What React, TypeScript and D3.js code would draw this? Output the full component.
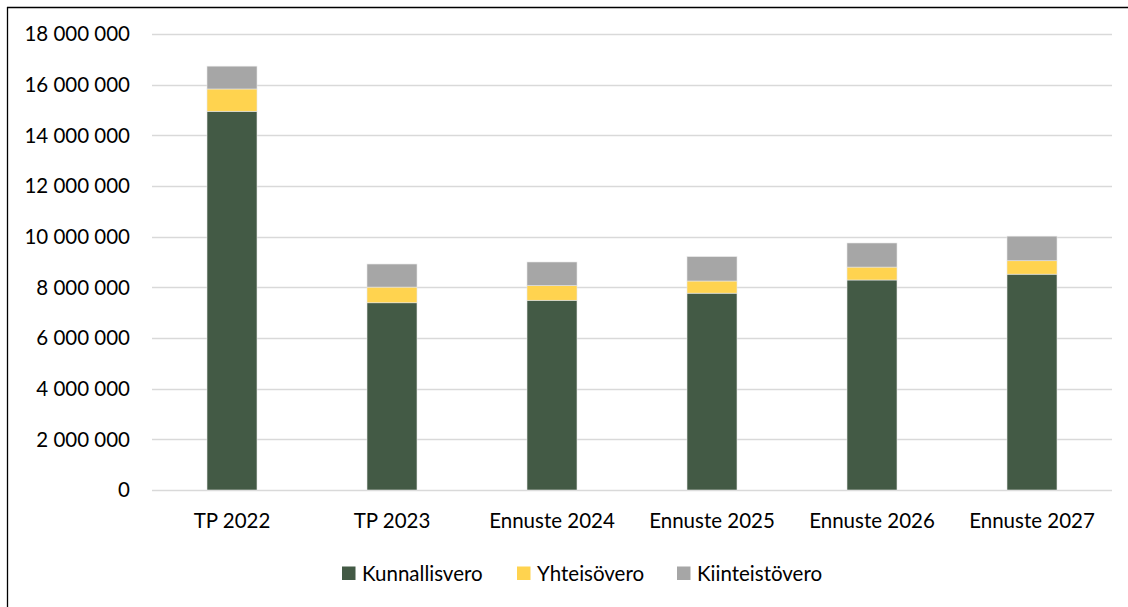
import React, { useRef, useEffect } from 'react';
import * as d3 from 'd3';

const categories = ['TP 2022', 'TP 2023', 'Ennuste 2024', 'Ennuste 2025', 'Ennuste 2026', 'Ennuste 2027'];
const kunnallisvero = [14950000, 7390000, 7490000, 7770000, 8290000, 8520000];
const yhteisovero = [880000, 620000, 580000, 480000, 510000, 530000];
const kiinteistovero = [900000, 910000, 930000, 960000, 950000, 970000];
const seriesNames = ['Kunnallisvero', 'Yhteisövero', 'Kiinteistövero'];
const seriesColors = ['#435a45', '#ffd34f', '#a6a6a6'];
const yTicks = [0, 2000000, 4000000, 6000000, 8000000, 10000000, 12000000, 14000000, 16000000, 18000000];

const W = 1128;
const H = 607;
const FONT = 'Lato, "Open Sans", sans-serif';
const FS = 20.5;

const fmt = (v: number) => d3.format(',')(v).replace(/,/g, ' ');

const App = () => {
  const ref = useRef<SVGSVGElement | null>(null);

  useEffect(() => {
    if (!ref.current) return;
    const svg = d3.select(ref.current);
    svg.selectAll('*').remove();

    const margin = { top: 34, right: 16, bottom: 117, left: 152 };
    const width = W - margin.left - margin.right;
    const height = H - margin.top - margin.bottom;

    svg.append('rect').attr('width', W).attr('height', H).attr('fill', '#fff');
    // chart frame (top and left edges visible)
    svg.append('line').attr('x1', 7).attr('x2', W).attr('y1', 7.5).attr('y2', 7.5)
      .attr('stroke', '#000').attr('stroke-width', 1.3);
    svg.append('line').attr('x1', 7.5).attr('x2', 7.5).attr('y1', 7).attr('y2', H)
      .attr('stroke', '#000').attr('stroke-width', 1.3);

    const g = svg.append('g').attr('transform', `translate(${margin.left},${margin.top})`);

    const x = d3.scaleBand().domain(categories).range([0, width]).paddingInner(0.6875).paddingOuter(0.34375);
    const y = d3.scaleLinear().domain([0, 18000000]).range([height, 0]);

    // gridlines
    g.selectAll('.grid').data(yTicks).enter().append('line')
      .attr('x1', 0).attr('x2', width)
      .attr('y1', d => Math.round(y(d)) + 0.5).attr('y2', d => Math.round(y(d)) + 0.5)
      .attr('stroke', '#d9d9d9').attr('stroke-width', 1.3);

    // y labels
    g.selectAll('.ylab').data(yTicks).enter().append('text')
      .attr('x', -22).attr('y', d => y(d)).attr('dy', '0.35em')
      .attr('text-anchor', 'end').attr('font-family', FONT).attr('font-size', FS).attr('fill', '#000')
      .text(d => fmt(d));

    const rows = categories.map((c, i) => ({
      cat: c,
      k: kunnallisvero[i],
      y: yhteisovero[i],
      t: kiinteistovero[i],
    }));
    const stack = d3.stack<any>().keys(['k', 'y', 't'])(rows);

    stack.forEach((layer, li) => {
      g.selectAll(`.bar${li}`).data(layer).enter().append('rect')
        .attr('x', d => x(d.data.cat) as number)
        .attr('width', x.bandwidth())
        .attr('y', d => y(d[1]))
        .attr('height', d => y(d[0]) - y(d[1]))
        .attr('fill', seriesColors[li])
        .attr('stroke', '#e6e6e6').attr('stroke-width', 0.6);
    });

    // x labels
    g.selectAll('.xlab').data(categories).enter().append('text')
      .attr('x', d => (x(d) as number) + x.bandwidth() / 2)
      .attr('y', height + 31).attr('dy', '0.35em')
      .attr('text-anchor', 'middle').attr('font-family', FONT).attr('font-size', FS).attr('fill', '#000')
      .text(d => d);

    // legend
    const legendX = [342, 517, 677];
    const lg = svg.append('g');
    seriesNames.forEach((n, i) => {
      lg.append('rect').attr('x', legendX[i]).attr('y', 566.5).attr('width', 13.5).attr('height', 13.5)
        .attr('fill', seriesColors[i]);
      lg.append('text').attr('x', legendX[i] + 20).attr('y', 574).attr('dy', '0.35em')
        .attr('font-family', FONT).attr('font-size', FS).attr('fill', '#000').text(n);
    });
  }, []);

  return (
    <svg ref={ref} width={W} height={H} style={{ position: 'absolute', left: 0, top: 0, display: 'block' }} />
  );
};

export default App;
